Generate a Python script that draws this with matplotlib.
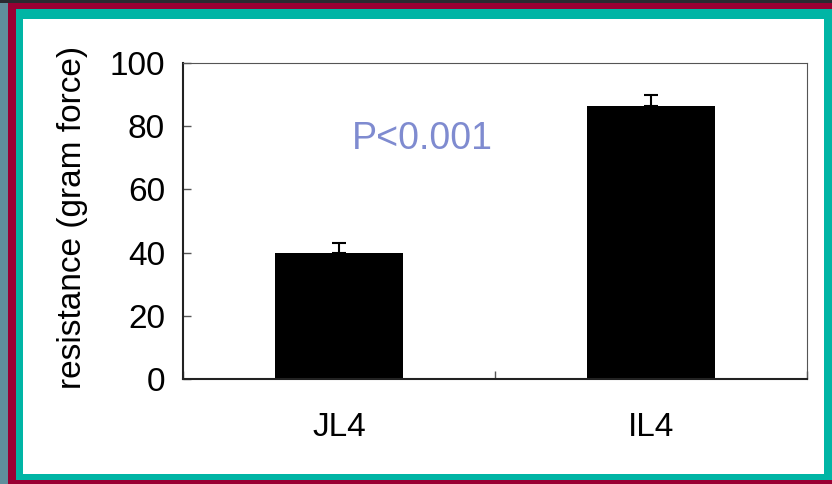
import matplotlib
matplotlib.use("Agg")
import matplotlib.pyplot as plt
from matplotlib.patches import Rectangle

categories = ["JL4", "IL4"]
values = [40, 86.5]
errors = [3, 3.5]
yticks = [0, 20, 40, 60, 80, 100]
annotation = "P<0.001"

plt.rcParams['font.family'] = ['Liberation Sans', 'DejaVu Sans']

W, H = 832, 484
fig = plt.figure(figsize=(W/100, H/100), dpi=100)
fig.patch.set_facecolor('#990033')

def px_rect(x0, y0, x1, y1, color):
    fig.patches.append(Rectangle((x0/W, 1 - y1/H), (x1-x0)/W, (y1-y0)/H,
                                 transform=fig.transFigure, facecolor=color,
                                 edgecolor='none', zorder=-5))

px_rect(0, 0, 8, H, '#5f8f9c')
px_rect(0, 0, W, 3, '#2a2a30')
px_rect(16, 9, 832, 480, '#00b5a5')
px_rect(23, 19, 824, 474, '#ffffff')

ax = fig.add_axes([183/W, 1 - 379/H, (807-183)/W, (379-63)/H])
ax.set_zorder(5)
ax.set_facecolor('none')
x = [0.5, 1.5]
ax.bar(x, values, width=0.41, color='black', zorder=2)
ax.errorbar(x, values, yerr=[[0, 0], errors], fmt='none', ecolor='black',
            elinewidth=1.5, capsize=5, capthick=1.5, zorder=3)
ax.set_xlim(0, 2)
ax.set_ylim(0, 100)
ax.set_yticks(yticks)
ax.set_yticklabels([str(t) for t in yticks], fontsize=24)
ax.set_xticks([0, 1, 2])
ax.set_xticklabels([])
ax.tick_params(axis='both', direction='in', length=6, width=1, colors='#555555',
               labelcolor='black')
ax.tick_params(axis='y', pad=13)
for i, c in enumerate(categories):
    ax.text(x[i], -15.5, c, ha='center', va='center', fontsize=24,
            transform=ax.transData)
ax.text(0.766, 76, annotation, ha='center', va='center', fontsize=27, color='#7f8bd0')
ax.set_ylabel("resistance (gram force)", fontsize=24)
ax.yaxis.set_label_coords(-0.152, 0.51)
for s in ['top', 'right']:
    ax.spines[s].set_color('#555555')
for s in ['left', 'bottom']:
    ax.spines[s].set_color('#222222')
ax.spines['left'].set_linewidth(1.5)
ax.spines['bottom'].set_linewidth(1.5)

fig.savefig("out.png", dpi=100, facecolor=fig.get_facecolor())
